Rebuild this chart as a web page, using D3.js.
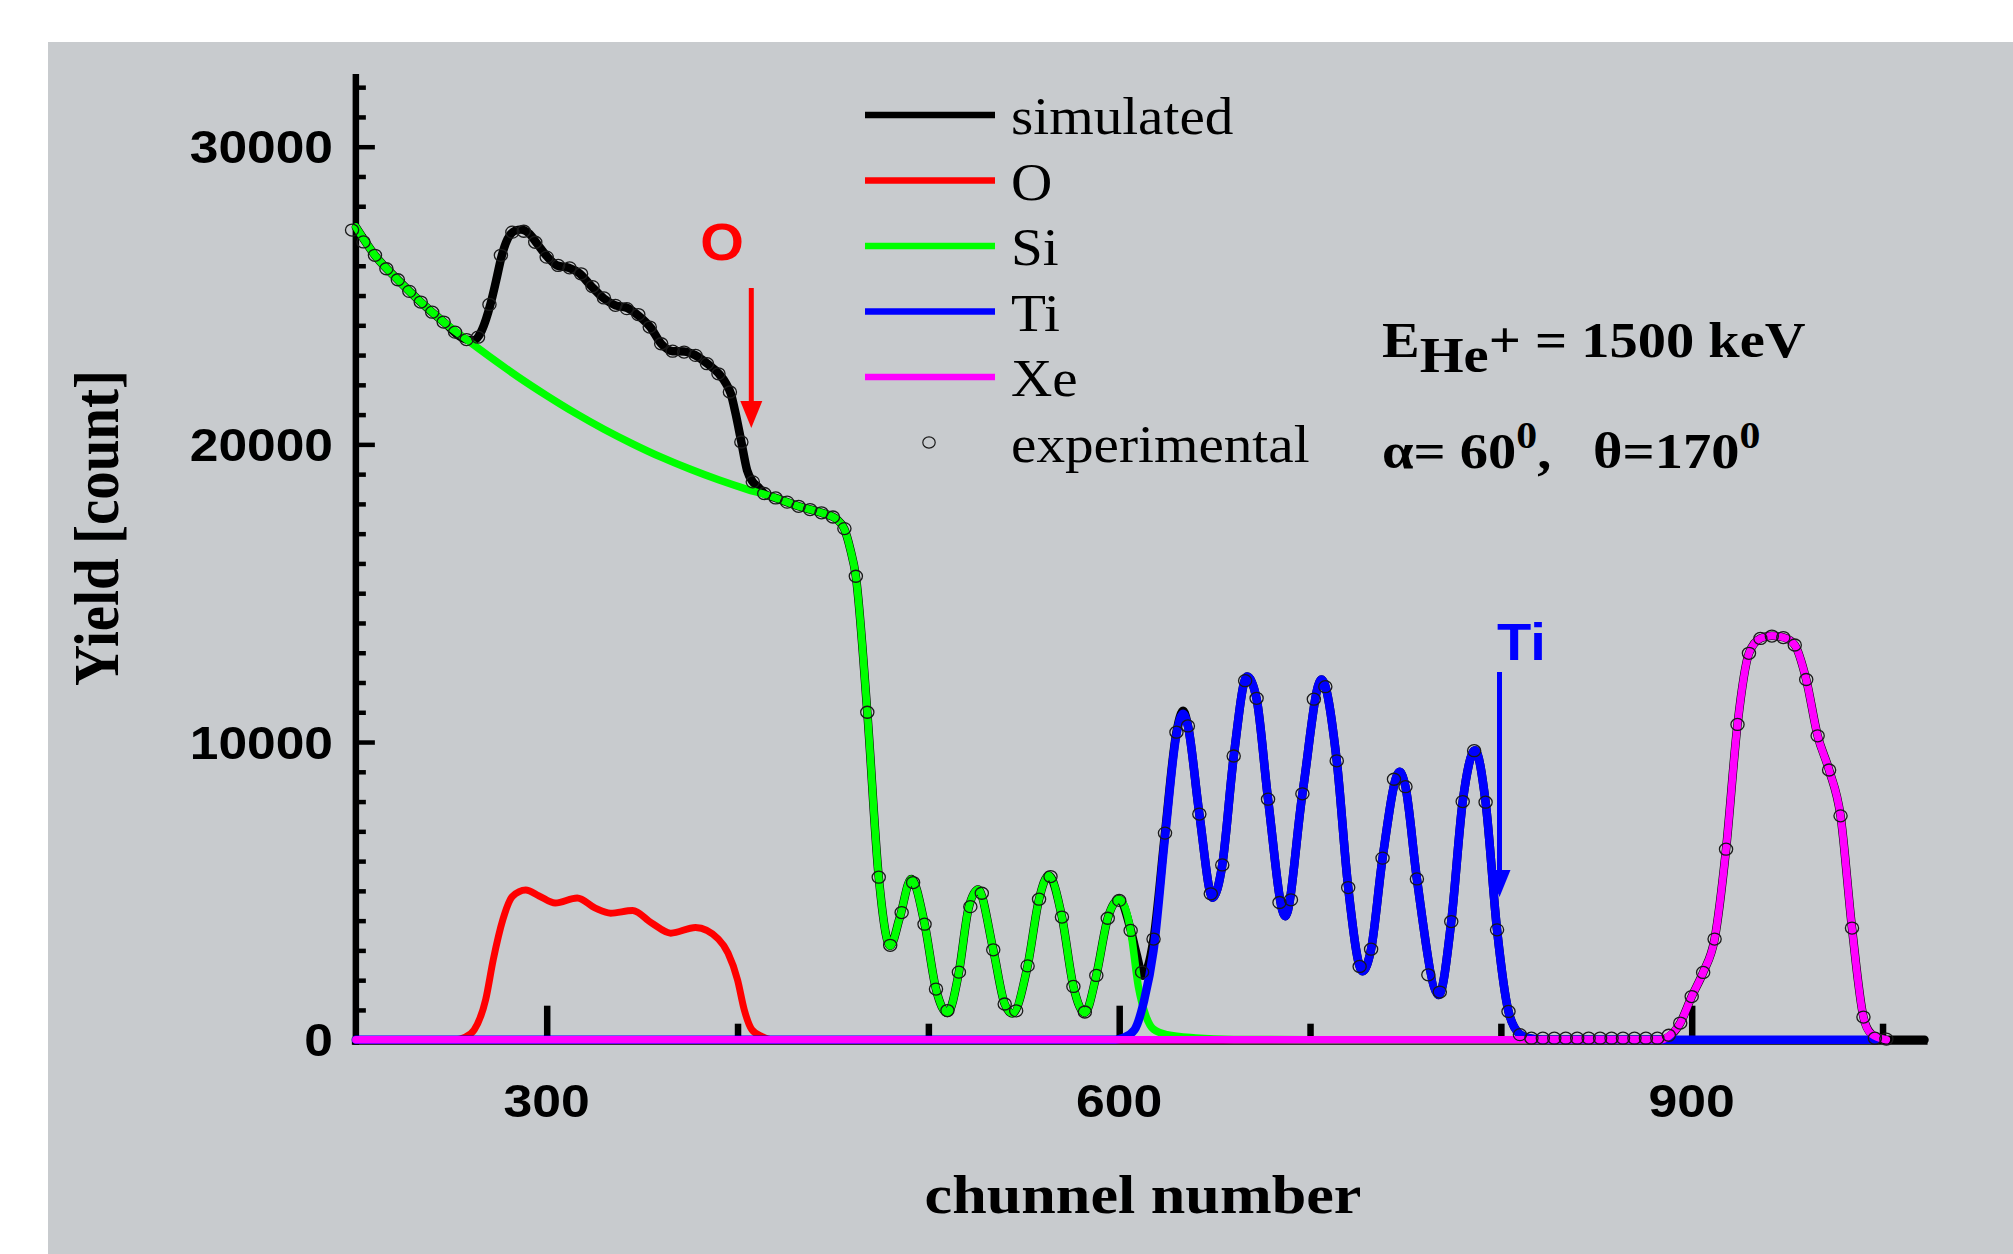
<!DOCTYPE html>
<html>
<head>
<meta charset="utf-8">
<script src="https://cdn.jsdelivr.net/npm/d3@7"></script>
<style>
  html, body { margin: 0; padding: 0; background: #ffffff; }
  svg { display: block; }
</style>
</head>
<body>
<svg id="chart" width="2013" height="1254"></svg>
<script>
// ---- RBS spectrum: experimental points and simulated element contributions ----

// experimental yield (every 6th channel)
const expChannels = [198,204,210,216,222,228,234,240,246,252,258,264,270,276,282,288,294,300,306,312,318,324,330,336,342,348,354,360,366,372,378,384,390,396,402,408,414,420,426,432,438,444,450,456,462,468,474,480,486,492,498,504,510,516,522,528,534,540,546,552,558,564,570,576,582,588,594,600,606,612,618,624,630,636,642,648,654,660,666,672,678,684,690,696,702,708,714,720,726,732,738,744,750,756,762,768,774,780,786,792,798,804,810,816,822,828,834,840,846,852,858,864,870,876,882,888,894,900,906,912,918,924,930,936,942,948,954,960,966,972,978,984,990,996,1002];
const expCounts = [27200,26800,26350,25900,25530,25140,24780,24440,24110,23770,23520,23600,24700,26350,27130,27160,26790,26290,26010,25930,25730,25300,24920,24670,24560,24360,23940,23380,23130,23100,22990,22710,22370,21760,20080,18740,18350,18200,18060,17920,17810,17700,17560,17170,15570,11000,5460,3170,4270,5280,3880,1700,980,2270,4470,4920,3020,1200,970,2480,4720,5480,4120,1790,930,2160,4080,4680,3670,2270,3380,6940,10330,10540,7580,4900,5870,9530,12060,11470,8080,4610,4700,8260,11440,11860,9370,5110,2460,3040,6100,8750,8500,5400,2180,1600,3970,8000,9710,7980,3690,950,170,50,50,50,50,50,50,50,50,50,50,50,50,150,560,1450,2260,3380,6400,10590,12980,13480,13560,13510,13260,12100,10210,9060,7520,3750,760,50,20];

// simulated total spectrum
const simChannels = [200,210,222,234,246,258,262,266,270.5,273.5,276.5,279.5,283.5,286.5,291,295,300.5,305.5,311.5,317,323,330,336,342,348,354.5,360,366,372,378,384,390,394,396.5,399,402,405,408,411,414,420,432,444,452,456,459,462,468,474,480,485,491,498,504,510,516,521,526,534,540,544,552,558,563,570,576,582,588,594,600,606,609,612.5,615,618,624,630,633.5,636,642,649,654,660,667,672,678,687,696,706,714,720,727.5,732,738,747,750,756,767.5,774,780,786.5,792,798,804,810,816,822,884,888,894,900,906,912,918,924,930,936,942,948,954,960,966,972,978,984,990,994,1000,1022];
const simCounts = [27300,26350,25530,24780,24110,23520,23500,23830,24700,25500,26350,26900,27180,27220,27070,26740,26290,26010,25930,25750,25340,24900,24670,24590,24330,23920,23380,23130,23120,22990,22720,22390,22040,21700,21030,20080,19130,18740,18560,18350,18200,17920,17700,17480,17150,16500,15570,11000,5460,3150,4100,5400,3900,1700,900,2270,4400,5050,3020,1200,880,2480,4720,5520,4120,1790,900,2160,4080,4720,3700,2900,2150,2450,3380,6940,10330,11050,10560,7580,4770,5870,9510,12200,11450,8080,4150,8260,12100,9370,5110,2300,3040,6100,9000,8500,5400,1500,3970,8000,9720,7980,3690,950,180,30,0,0,100,560,1450,2260,3380,6400,10590,12980,13480,13570,13520,13260,12100,10210,9060,7520,3750,760,200,0,0];

// oxygen contribution
const oChannels = [200,252,257,262,268,272,277,282,289,296,304.5,316,325.5,333.5,345,355,365,378,390,395,400,403.5,407.5,413,418,997];
const oCounts = [0,0,80,330,1340,2690,4030,4810,5030,4830,4590,4760,4420,4250,4340,3920,3580,3770,3380,2910,2010,1010,340,100,0,0];

// silicon contribution
const siChannels = [200,210,222,234,246,258,270,285,300,315,330,345,360,375,390,405,414,420,432,444,452,456,459,462,468,474,480,485,491,498,504,510,516,521,526,534,540,544,552,558,563,570,576,582,588,594,600,606,610,614,618,625,640,660,700,997];
const siCounts = [27300,26350,25530,24780,24110,23520,22950,22270,21640,21050,20510,20020,19570,19170,18810,18490,18320,18200,17920,17700,17480,17150,16500,15570,11000,5460,3150,4100,5400,3900,1700,900,2270,4400,5050,3020,1200,880,2480,4720,5520,4120,1790,900,2160,4080,4720,3670,1800,800,350,170,60,10,0,0];

// titanium contribution
const tiChannels = [200,598,602,608,613,618,624,630,633.5,636,642,649,654,660,667,672,678,687,696,706,714,720,727.5,732,738,747,750,756,767.5,774,780,786.5,792,798,804,810,816,822,997];
const tiCounts = [0,0,60,330,1300,3000,6800,10250,10950,10540,7580,4770,5870,9510,12200,11450,8080,4150,8260,12100,9370,5110,2300,3040,6100,9000,8500,5400,1500,3970,8000,9720,7980,3690,950,180,30,0,0];

// xenon contribution
const xeChannels = [200,884,888,894,900,906,912,918,924,930,936,942,948,954,960,966,972,978,984,990,994,1002];
const xeCounts = [0,0,120,560,1450,2260,3380,6400,10590,12980,13480,13570,13520,13260,12100,10210,9060,7520,3750,760,200,0];

// axis ticks
const xMajorTicks = [300, 600, 900];
const xMinorTicks = [400, 500, 700, 800, 1000];
const yMajorTicks = [0, 10000, 20000, 30000];
const yMinorTicks = d3.range(1000, 33000, 1000).filter(v => v % 10000 !== 0);

// legend entries
const legendLabels = ["simulated", "O", "Si", "Ti", "Xe", "experimental"];
const legendColors = ["#000000", "#ff0000", "#00ff00", "#0000ff", "#ff00ff", null];

// ---- drawing ----
const svg = d3.select("#chart");
const sans = "'Liberation Sans', Arial, sans-serif";
const serif = "'Liberation Serif', 'Times New Roman', serif";
const stretch = 1.1;

const x = d3.scaleLinear().domain([300, 900]).range([546.7, 1691.7]);
const y = d3.scaleLinear().domain([0, 30000]).range([1039.7, 146.7]);
const xEnd = 1023.6, yTop = 32440;

// panel background
svg.append("rect").attr("x", 48).attr("y", 42).attr("width", 2013 - 48).attr("height", 1254 - 42)
  .attr("fill", "#c8cbce");

// axis lines
svg.append("line").attr("x1", x(200) - 4).attr("x2", x(xEnd)).attr("y1", y(0) + 1.5).attr("y2", y(0) + 1.5)
  .attr("stroke", "#000").attr("stroke-width", 7);
svg.append("line").attr("x1", x(200)).attr("x2", x(200)).attr("y1", y(yTop)).attr("y2", y(0) + 5)
  .attr("stroke", "#000").attr("stroke-width", 6.5);

// ticks drawn inward from both axes
function styleTicks(g, w) {
  g.select(".domain").remove();
  g.selectAll(".tick line").attr("stroke", "#000").attr("stroke-width", w);
  g.selectAll(".tick text").remove();
}
svg.append("g").attr("transform", `translate(${x(200)},0)`)
  .call(d3.axisRight(y).tickValues(yMinorTicks).tickSize(10).tickFormat(""))
  .call(g => styleTicks(g, 4.5));
svg.append("g").attr("transform", `translate(${x(200)},0)`)
  .call(d3.axisRight(y).tickValues(yMajorTicks.filter(v => v > 0)).tickSize(19).tickFormat(""))
  .call(g => styleTicks(g, 4.5));
svg.append("g").attr("transform", `translate(0,${y(0)})`)
  .call(d3.axisTop(x).tickValues(xMinorTicks).tickSize(16).tickFormat(""))
  .call(g => styleTicks(g, 6.5));
svg.append("g").attr("transform", `translate(0,${y(0)})`)
  .call(d3.axisTop(x).tickValues(xMajorTicks).tickSize(34).tickFormat(""))
  .call(g => styleTicks(g, 6.5));

// tick labels
svg.append("g").selectAll("g").data(yMajorTicks).join("g")
  .attr("transform", d => `translate(333,${y(d) + 16.5}) scale(1.12,1)`)
  .append("text").attr("text-anchor", "end")
  .attr("font-family", sans).attr("font-weight", "bold").attr("font-size", 46)
  .text(d => d);
svg.append("g").selectAll("g").data(xMajorTicks).join("g")
  .attr("transform", d => `translate(${x(d)},1117) scale(${stretch},1)`)
  .append("text").attr("text-anchor", "middle")
  .attr("font-family", sans).attr("font-weight", "bold").attr("font-size", 47)
  .text(d => d);

// axis titles
svg.append("g").attr("transform", `translate(1143,1213) scale(1.13,1)`)
  .append("text").attr("text-anchor", "middle")
  .attr("font-family", serif).attr("font-weight", "bold").attr("font-size", 55)
  .text("chunnel number");
svg.append("g").attr("transform", `translate(118,528) rotate(-90) scale(1,1.13)`)
  .append("text").attr("text-anchor", "middle")
  .attr("font-family", serif).attr("font-weight", "bold").attr("font-size", 57)
  .text("Yield [count]");

// spectrum curves
const line = d3.line().x(d => x(d[0])).y(d => y(d[1])).curve(d3.curveMonotoneX);
const series = [
  { ch: simChannels, ct: simCounts, color: "#000000", w: 8.5 },
  { ch: oChannels, ct: oCounts, color: "#ff0000", w: 7 },
  { ch: siChannels, ct: siCounts, color: "#00ff00", w: 7.5 },
  { ch: tiChannels, ct: tiCounts, color: "#0000ff", w: 8.5 },
  { ch: xeChannels, ct: xeCounts, color: "#ff00ff", w: 7.5 }
];
svg.append("g").selectAll("path").data(series).join("path")
  .attr("d", s => line(s.ch.map((c, i) => [c, s.ct[i]])))
  .attr("fill", "none").attr("stroke", s => s.color).attr("stroke-width", s => s.w)
  .attr("stroke-linejoin", "round").attr("stroke-linecap", "round");

// experimental points
svg.append("g").selectAll("ellipse").data(expChannels.map((c, i) => [c, expCounts[i]])).join("ellipse")
  .attr("cx", d => x(d[0])).attr("cy", d => y(d[1]))
  .attr("rx", 6.6).attr("ry", 6.0)
  .attr("fill", "none").attr("stroke", "#1a1a1a").attr("stroke-width", 1.3);

// legend
const legend = svg.append("g");
legendLabels.forEach((label, i) => {
  const ly = 115 + i * 65.5;
  if (legendColors[i]) {
    legend.append("line").attr("x1", 865).attr("x2", 995).attr("y1", ly).attr("y2", ly)
      .attr("stroke", legendColors[i]).attr("stroke-width", 6.5);
  } else {
    legend.append("ellipse").attr("cx", 929).attr("cy", ly).attr("rx", 6.2).attr("ry", 5.6)
      .attr("fill", "none").attr("stroke", "#1a1a1a").attr("stroke-width", 1.2);
  }
  legend.append("g").attr("transform", `translate(1011,${ly + 19}) scale(${stretch},1)`)
    .append("text").attr("font-family", serif).attr("font-size", 52).text(label);
});

// beam and geometry annotation
const info = svg.append("g").attr("transform", `translate(1382,0) scale(1.13,1)`)
  .attr("font-family", serif).attr("font-weight", "bold").attr("font-size", 50);
const t1 = info.append("text").attr("x", 0).attr("y", 356.7).attr("xml:space", "preserve");
t1.append("tspan").text("E");
t1.append("tspan").attr("dy", 15).text("He");
t1.append("tspan").attr("dy", -15).text("+");
t1.append("tspan").text(" = 1500 keV");
const t2 = info.append("text").attr("x", 0).attr("y", 468.3).attr("xml:space", "preserve");
t2.append("tspan").text("\u03b1= 60");
t2.append("tspan").attr("dy", -20).attr("font-size", 37).text("0");
t2.append("tspan").attr("dy", 20).text(",  ");
t2.append("tspan").attr("dx", 12).text("\u03b8=170");
t2.append("tspan").attr("dy", -20).attr("font-size", 37).text("0");

// element edge markers
function arrow(cx, yStart, yTip, color) {
  const g = svg.append("g");
  g.append("line").attr("x1", cx).attr("x2", cx).attr("y1", yStart).attr("y2", yTip - 20)
    .attr("stroke", color).attr("stroke-width", 5);
  g.append("path").attr("d", `M${cx - 11},${yTip - 27} L${cx + 11},${yTip - 27} L${cx},${yTip} Z`)
    .attr("fill", color);
}
arrow(751.3, 288, 428, "#ff0000");
arrow(1499.5, 672, 897, "#0000ff");

svg.append("g").attr("transform", `translate(722,260) scale(${stretch},1)`)
  .append("text").attr("text-anchor", "middle")
  .attr("font-family", sans).attr("font-weight", "bold").attr("font-size", 51)
  .attr("fill", "#ff0000").text("O");
svg.append("g").attr("transform", `translate(1497,660) scale(${stretch},1)`)
  .append("text")
  .attr("font-family", sans).attr("font-weight", "bold").attr("font-size", 51)
  .attr("fill", "#0000ff").text("Ti");
</script>
</body>
</html>
